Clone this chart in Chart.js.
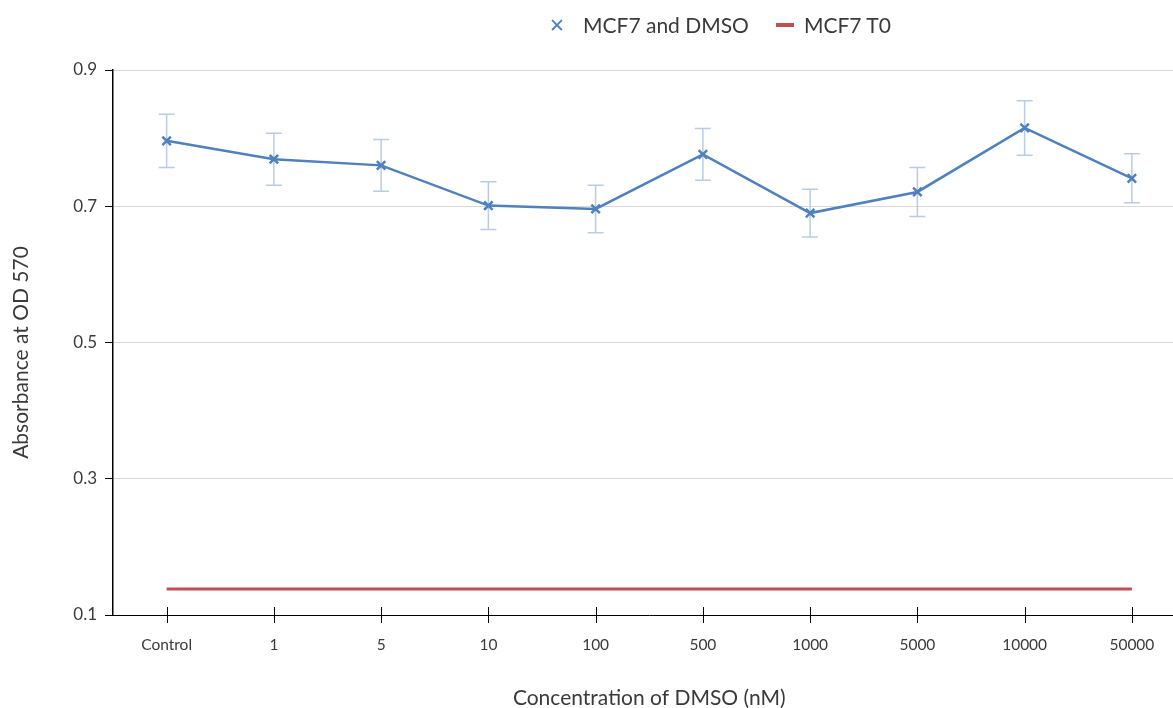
<!DOCTYPE html>
<html>
<head>
<meta charset="utf-8">
<title>MCF7 DMSO absorbance</title>
<script src="https://cdn.jsdelivr.net/npm/chart.js@4.4.0/dist/chart.umd.min.js"></script>
<style>
  body { margin: 0; background: #fff; overflow: hidden; }
  #wrap { position: relative; width: 1173px; height: 708px; overflow: hidden; }
  #chartBox { position: absolute; left: 0; top: 0; width: 1194px; height: 708px; }
  #legend { position: absolute; top: 9px; left: 549px; font-family: Lato, sans-serif; font-size: 21px; color: #3a3a3a; white-space: nowrap; }
  #legend span { display: inline-block; vertical-align: middle; }
  .mark-x { color: #4f81bd; font-size: 19px; width: 34px; }
  .mark-line { width: 18px; height: 4px; background: #c0504d; margin: 0 10px 0 27px; }
</style>
</head>
<body>
<div id="wrap">
  <div id="chartBox"><canvas id="absChart"></canvas></div>
  <div id="legend">
    <span class="mark-x">&#x2715;</span><span>MCF7 and DMSO</span><span class="mark-line"></span><span>MCF7 T0</span>
  </div>
</div>
<script>
const categories = ['Control', '1', '5', '10', '100', '500', '1000', '5000', '10000', '50000'];
const dmsoMeans = [0.796, 0.769, 0.760, 0.701, 0.696, 0.776, 0.690, 0.721, 0.815, 0.741];
const dmsoErrors = [0.039, 0.038, 0.038, 0.035, 0.035, 0.038, 0.035, 0.036, 0.040, 0.036];
const t0Values = [0.138, 0.138, 0.138, 0.138, 0.138, 0.138, 0.138, 0.138, 0.138, 0.138];
const yTicks = [0.1, 0.3, 0.5, 0.7, 0.9];

const textColor = '#3a3a3a';
const yTitle = 'Absorbance at OD 570';

// vertical error bars behind the DMSO line
const errorBars = {
  id: 'errorBars',
  beforeDatasetsDraw(chart) {
    const ctx = chart.ctx;
    const x = chart.scales.x;
    const y = chart.scales.y;
    ctx.save();
    ctx.strokeStyle = '#b9cce6';
    ctx.lineWidth = 1.5;
    dmsoMeans.forEach((v, i) => {
      const px = x.getPixelForValue(i);
      const top = y.getPixelForValue(v + dmsoErrors[i]);
      const bot = y.getPixelForValue(v - dmsoErrors[i]);
      ctx.beginPath();
      ctx.moveTo(px, top); ctx.lineTo(px, bot);
      ctx.moveTo(px - 8, top); ctx.lineTo(px + 8, top);
      ctx.moveTo(px - 8, bot); ctx.lineTo(px + 8, bot);
      ctx.stroke();
    });
    ctx.restore();
  }
};

// category tick marks that cross the x axis line, plus the y title
const axisExtras = {
  id: 'axisExtras',
  afterDraw(chart) {
    const ctx = chart.ctx;
    const x = chart.scales.x;
    const area = chart.chartArea;
    ctx.save();
    ctx.strokeStyle = '#000';
    ctx.lineWidth = 1;
    x.ticks.forEach((t, i) => {
      const px = Math.round(x.getPixelForTick(i)) + 0.5;
      ctx.beginPath();
      ctx.moveTo(px, area.bottom - 8);
      ctx.lineTo(px, area.bottom + 8);
      ctx.stroke();
    });
    ctx.translate(21, (area.top + area.bottom) / 2 + 10);
    ctx.rotate(-Math.PI / 2);
    ctx.fillStyle = textColor;
    ctx.font = '21px Lato';
    ctx.textAlign = 'center';
    ctx.textBaseline = 'middle';
    ctx.fillText(yTitle, 0, 0);
    ctx.restore();
  }
};

new Chart(document.getElementById('absChart'), {
  type: 'line',
  data: {
    labels: categories,
    datasets: [
      {
        label: 'MCF7 and DMSO',
        data: dmsoMeans,
        borderColor: '#4f81bd',
        backgroundColor: '#4f81bd',
        borderWidth: 2.5,
        pointStyle: 'crossRot',
        pointRadius: 6,
        pointBorderWidth: 2.5,
        tension: 0
      },
      {
        label: 'MCF7 T0',
        data: t0Values,
        borderColor: '#c0504d',
        backgroundColor: '#c0504d',
        borderWidth: 3,
        pointRadius: 0,
        tension: 0
      }
    ]
  },
  options: {
    responsive: true,
    maintainAspectRatio: false,
    animation: false,
    layout: { padding: { top: 70, right: 3, left: 0, bottom: 0 } },
    plugins: {
      legend: { display: false },
      tooltip: { enabled: false }
    },
    scales: {
      x: {
        offset: true,
        grid: { display: false },
        border: { color: '#000', width: 1 },
        ticks: { color: textColor, font: { family: 'Lato', size: 15.5 }, padding: 13, maxRotation: 0 },
        title: {
          display: true,
          text: 'Concentration of DMSO (nM)',
          color: textColor,
          font: { family: 'Lato', size: 21 },
          padding: { top: 0, bottom: -3 }
        },
        afterFit: s => { s.height = 93; }
      },
      y: {
        min: 0.1,
        max: 0.9,
        afterBuildTicks: s => { s.ticks = yTicks.map(v => ({ value: v })); },
        grid: { color: '#d9d9d9', tickColor: '#000', tickLength: 8, lineWidth: 1 },
        border: { color: '#000', width: 1.5 },
        ticks: { color: textColor, font: { family: 'Lato', size: 17 }, padding: 8, callback: v => v.toFixed(1) },
        afterFit: s => { s.width = 113; }
      }
    }
  },
  plugins: [errorBars, axisExtras]
});
</script>
</body>
</html>
